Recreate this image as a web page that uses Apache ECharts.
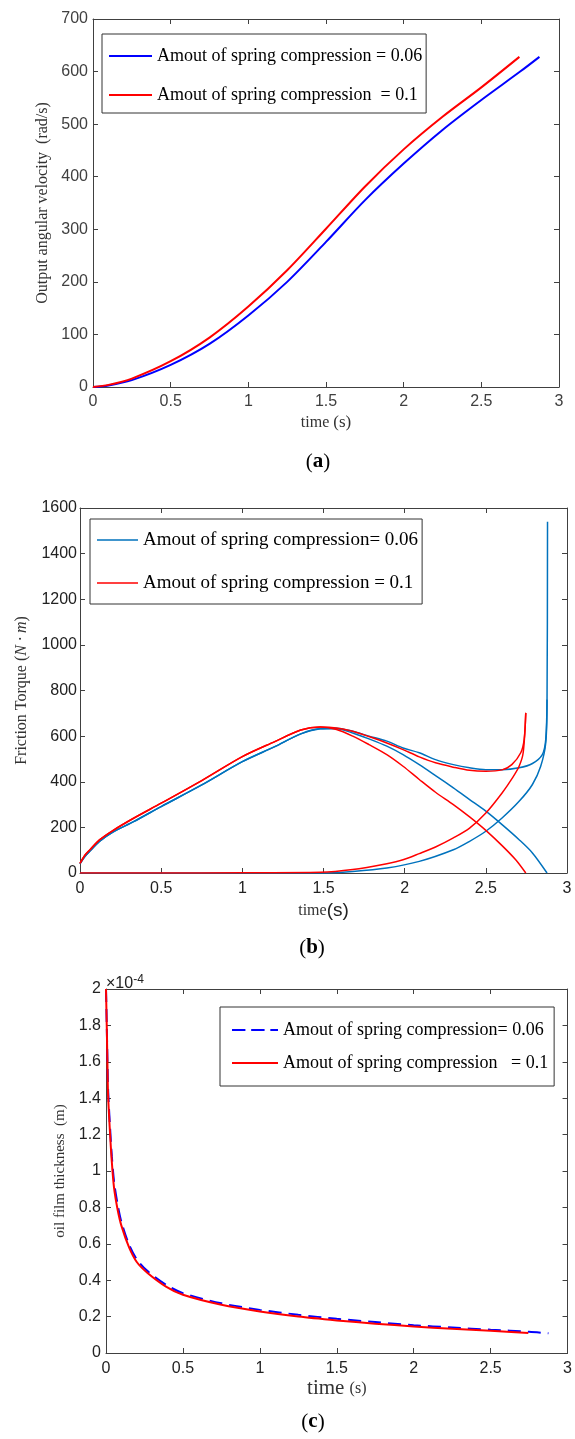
<!DOCTYPE html>
<html>
<head>
<meta charset="utf-8">
<script src="https://cdn.jsdelivr.net/npm/echarts@6/dist/echarts.min.js"></script>
<style>
  html, body { margin: 0; padding: 0; background: #fff; }
  #chart { width: 575px; height: 1439px; }
</style>
</head>
<body>
<div id="chart"></div>
<script>
// ---- (a) output angular velocity (rad/s) vs time (s) ----
const velTime06 = [0, 0.1, 0.25, 0.5, 0.75, 1.0, 1.25, 1.5, 1.75, 2.0, 2.25, 2.5, 2.75, 2.874];
const velocity06 = [0, 3, 13, 42, 82, 136, 200, 276, 355, 425, 489, 546, 600, 628];
const velTime10 = [0, 0.1, 0.25, 0.5, 0.75, 1.0, 1.25, 1.5, 1.75, 2.0, 2.25, 2.5, 2.745];
const velocity10 = [0, 4, 16, 49, 94, 153, 222, 301, 381, 452, 514, 570, 628];

// ---- (b) friction torque (N·m) vs time (s) ----
// common rising part of the total and viscous torque curves
const riseTime = [0, 0.03, 0.06, 0.12, 0.2, 0.33, 0.5, 0.75, 1.0, 1.2, 1.36, 1.48];
const riseTorque06 = [40, 72, 95, 138, 178, 225, 291, 386, 488, 554, 610, 632];
const riseTorque10 = [42, 78, 101, 145, 185, 240, 306, 405, 510, 576, 627, 640];
// total torque after the peak
const totalTailTime06 = [1.58, 1.68, 1.78, 1.89, 1.99, 2.09, 2.19, 2.3, 2.4, 2.5, 2.6, 2.705, 2.787, 2.848, 2.869, 2.877, 2.88];
const totalTail06 = [635, 621, 600, 578, 548, 527, 497, 475, 461, 453, 453, 461, 480, 519, 585, 760, 1540];
const totalTailTime10 = [1.58, 1.68, 1.78, 1.89, 1.99, 2.09, 2.19, 2.3, 2.4, 2.5, 2.6, 2.66, 2.715, 2.736, 2.746];
const totalTail10 = [636, 621, 598, 570, 541, 509, 483, 464, 450, 446, 452, 475, 527, 585, 702];
// viscous torque after the peak
const viscTailTime06 = [1.58, 1.68, 1.78, 1.89, 1.99, 2.09, 2.19, 2.3, 2.4, 2.5, 2.6, 2.705, 2.787, 2.877];
const viscTail06 = [632, 614, 588, 556, 519, 475, 427, 373, 322, 271, 212, 146, 88, 0];
const viscTailTime10 = [1.58, 1.68, 1.78, 1.89, 1.99, 2.09, 2.19, 2.3, 2.4, 2.5, 2.6, 2.684, 2.746];
const viscTail10 = [629, 600, 563, 519, 468, 410, 354, 300, 246, 187, 120, 58, 0];
// contact (asperity) torque
const contactTime06 = [0, 0.5, 1.0, 1.48, 1.68, 1.89, 2.09, 2.3, 2.4, 2.5, 2.6, 2.705, 2.787, 2.838, 2.869, 2.877];
const contact06 = [0, 0, 0, 0, 7, 22, 51, 102, 139, 183, 241, 314, 388, 468, 570, 760];
const contactTime10 = [0, 0.5, 1.0, 1.48, 1.68, 1.89, 1.99, 2.09, 2.19, 2.3, 2.4, 2.5, 2.6, 2.664, 2.705, 2.73, 2.746];
const contact10 = [0, 0, 1, 3, 15, 41, 58, 85, 114, 154, 197, 263, 351, 417, 468, 527, 702];

// ---- (c) oil film thickness, in units of 1e-4 m ----
const filmTime06 = [0, 0.005, 0.009, 0.014, 0.025, 0.038, 0.054, 0.077, 0.1, 0.15, 0.2, 0.27, 0.39, 0.5, 0.75, 1.0, 1.25, 1.5, 1.75, 2.0, 2.25, 2.5, 2.75, 2.876];
const filmE4_06 = [2.0, 1.80, 1.62, 1.44, 1.26, 1.08, 0.93, 0.81, 0.72, 0.595, 0.515, 0.45, 0.375, 0.329, 0.273, 0.237, 0.21, 0.188, 0.17, 0.153, 0.14, 0.128, 0.117, 0.108];
const filmTime10 = [0, 0.005, 0.009, 0.013, 0.024, 0.037, 0.052, 0.075, 0.1, 0.15, 0.2, 0.27, 0.39, 0.5, 0.75, 1.0, 1.25, 1.5, 1.75, 2.0, 2.25, 2.5, 2.745];
const filmE4_10 = [2.0, 1.79, 1.61, 1.43, 1.24, 1.06, 0.91, 0.79, 0.70, 0.58, 0.50, 0.44, 0.365, 0.32, 0.265, 0.228, 0.2, 0.179, 0.161, 0.146, 0.133, 0.122, 0.11];

// legend entries
const legendText = {
  a06: 'Amout of spring compression = 0.06',
  a10: 'Amout of spring compression  = 0.1',
  b06: 'Amout of spring compression= 0.06',
  b10: 'Amout of spring compression = 0.1',
  c06: 'Amout of spring compression= 0.06',
  c10: 'Amout of spring compression   = 0.1'
};

const SERIF = '"Liberation Serif", "Times New Roman", serif';
const SANS = '"Liberation Sans", Arial, sans-serif';
const AXIS_COLOR = '#404040';
// legend swatches: a plain stroke and a dashed stroke
const SOLID_ICON = 'path://M0,0H48V2H0Z';
const DASH_ICON = 'path://M0,0H14V2H0Z M20,0H34V2H20Z M40,0H48V2H40Z';

const zip = (xs, ys) => xs.map((x, i) => [x, ys[i]]);

function bottomX(gridIndex, name, nameGap, margin, labelColor, nameStyle) {
  return {
    type: 'value', gridIndex, position: 'bottom', min: 0, max: 3, interval: 0.5,
    name, nameLocation: 'middle', nameGap,
    nameTextStyle: nameStyle,
    axisLine: { show: true, onZero: false, lineStyle: { color: AXIS_COLOR, width: 1 } },
    axisTick: { show: true, inside: true, length: 5, lineStyle: { color: AXIS_COLOR } },
    axisLabel: { margin, fontFamily: SANS, fontSize: 16, color: labelColor, showMinLabel: true, showMaxLabel: true },
    splitLine: { show: false }
  };
}
function topX(gridIndex) {
  return {
    type: 'value', gridIndex, position: 'top', min: 0, max: 3, interval: 0.5,
    axisLine: { show: true, onZero: false, lineStyle: { color: AXIS_COLOR, width: 1 } },
    axisTick: { show: true, inside: true, length: 5, lineStyle: { color: AXIS_COLOR } },
    axisLabel: { show: false }, splitLine: { show: false }
  };
}
function leftY(gridIndex, max, interval, name, nameGap, margin, labelColor, nameStyle, fmt) {
  return {
    type: 'value', gridIndex, position: 'left', min: 0, max, interval,
    name, nameLocation: 'middle', nameGap, nameRotate: 90,
    nameTextStyle: Object.assign({ fontFamily: SERIF, fontSize: 16, color: '#333' }, nameStyle || {}),
    axisLine: { show: true, onZero: false, lineStyle: { color: AXIS_COLOR, width: 1 } },
    axisTick: { show: true, inside: true, length: 5, lineStyle: { color: AXIS_COLOR } },
    axisLabel: { margin, fontFamily: SANS, fontSize: 16, color: labelColor, formatter: fmt, showMinLabel: true, showMaxLabel: true },
    splitLine: { show: false }
  };
}
function rightY(gridIndex, max, interval) {
  return {
    type: 'value', gridIndex, position: 'right', min: 0, max, interval,
    axisLine: { show: true, onZero: false, lineStyle: { color: AXIS_COLOR, width: 1 } },
    axisTick: { show: true, inside: true, length: 5, lineStyle: { color: AXIS_COLOR } },
    axisLabel: { show: false }, splitLine: { show: false }
  };
}
function line(name, xIdx, yIdx, data, color, width, dash) {
  return {
    name, type: 'line', xAxisIndex: xIdx, yAxisIndex: yIdx, data,
    showSymbol: false, symbol: 'none', smooth: 0.3,
    lineStyle: { color, width, type: dash || 'solid' },
    itemStyle: { color },
    emphasis: { disabled: true }, silent: true
  };
}
function legendBox(items, left, top, padding, itemGap, itemWidth, fontSize) {
  return {
    data: items, orient: 'vertical', left, top, padding, itemGap, itemWidth, itemHeight: 2,
    borderColor: '#333', borderWidth: 1, backgroundColor: '#fff',
    formatter: n => legendText[n], selectedMode: false,
    textStyle: { fontFamily: SERIF, fontSize, color: '#000', lineHeight: 22 }
  };
}

const BLUE = '#0000ff', RED = '#ff0000', MBLUE = '#0072BD';
const labelInt = v => String(v);
const labelDec = v => String(+v.toFixed(1));

const chart = echarts.init(document.getElementById('chart'), null, { renderer: 'canvas' });
chart.setOption({
  animation: false,
  backgroundColor: '#fff',
  grid: [
    { left: 93, top: 19, width: 466, height: 368 },
    { left: 80, top: 508, width: 487, height: 365 },
    { left: 106, top: 989, width: 462, height: 364 }
  ],
  xAxis: [
    bottomX(0, 'time {p|(s)}', 27, 7, '#404040',
      { fontFamily: SERIF, fontSize: 16, color: '#333', rich: { p: { fontFamily: SERIF, fontSize: 17, color: '#333' } } }),
    bottomX(1, 'time{p|(s)}', 28, 8, '#222',
      { fontFamily: SERIF, fontSize: 16, color: '#333', rich: { p: { fontFamily: SANS, fontSize: 19, color: '#222' } } }),
    bottomX(2, 'time {p|(s)}', 25, 8, '#222',
      { fontFamily: SERIF, fontSize: 21, color: '#333', rich: { p: { fontFamily: SERIF, fontSize: 16, color: '#333' } } }),
    topX(0), topX(1), topX(2)
  ],
  yAxis: [
    leftY(0, 700, 100, 'Output angular velocity  (rad/s)', 41, 5, '#404040', null, labelInt),
    leftY(1, 1600, 200, 'Friction Torque ({i|N · m})', 50, 3, '#222',
      { fontSize: 16, rich: { i: { fontFamily: SERIF, fontStyle: 'italic', fontSize: 16, color: '#333' } } }, labelInt),
    leftY(2, 2, 0.2, 'oil film thickness  (m)', 38, 5, '#222', { fontSize: 15 }, labelDec),
    rightY(0, 700, 100), rightY(1, 1600, 200), rightY(2, 2, 0.2)
  ],
  legend: [
    legendBox([{ name: 'a06', icon: SOLID_ICON }, { name: 'a10', icon: SOLID_ICON }], 102, 34, [11, 4, 7, 7], 17, 43, 18),
    legendBox([{ name: 'b06', icon: SOLID_ICON }, { name: 'b10', icon: SOLID_ICON }], 90, 519, [10, 4, 10, 7], 21, 41, 19),
    legendBox([{ name: 'c06', icon: DASH_ICON }, { name: 'c10', icon: SOLID_ICON }], 220, 1007, [12, 6, 12, 12], 11, 46, 18)
  ],
  series: [
    line('a06', 0, 0, zip(velTime06, velocity06), BLUE, 2),
    line('a10', 0, 0, zip(velTime10, velocity10), RED, 2),

    line('b06', 1, 1, zip(riseTime.concat(totalTailTime06), riseTorque06.concat(totalTail06)), MBLUE, 1.5),
    line('b06', 1, 1, zip(riseTime.concat(viscTailTime06), riseTorque06.concat(viscTail06)), MBLUE, 1.5),
    line('b06', 1, 1, zip(contactTime06, contact06), MBLUE, 1.5),
    line('b10', 1, 1, zip(riseTime.concat(totalTailTime10), riseTorque10.concat(totalTail10)), RED, 1.5),
    line('b10', 1, 1, zip(riseTime.concat(viscTailTime10), riseTorque10.concat(viscTail10)), RED, 1.5),
    line('b10', 1, 1, zip(contactTime10, contact10), RED, 1.5),

    line('c06', 2, 2, zip(filmTime06, filmE4_06), BLUE, 2, [13, 7]),
    line('c10', 2, 2, zip(filmTime10, filmE4_10), RED, 2)
  ],
  graphic: [
    { type: 'text', x: 106, y: 984, style: {
        text: '×10{s|-4}', fontFamily: SANS, fontSize: 16, fill: '#222',
        align: 'left', verticalAlign: 'middle',
        rich: { s: { fontFamily: SANS, fontSize: 12, fill: '#222', verticalAlign: 'top', padding: [0, 0, 8, 0] } } } },
    { type: 'text', x: 318, y: 462, style: {
        text: '({b|a})', fontFamily: SERIF, fontSize: 21, fill: '#000', align: 'center', verticalAlign: 'middle',
        rich: { b: { fontFamily: SERIF, fontSize: 21, fontWeight: 'bold', fill: '#000' } } } },
    { type: 'text', x: 312, y: 948, style: {
        text: '({b|b})', fontFamily: SERIF, fontSize: 21, fill: '#000', align: 'center', verticalAlign: 'middle',
        rich: { b: { fontFamily: SERIF, fontSize: 21, fontWeight: 'bold', fill: '#000' } } } },
    { type: 'text', x: 313, y: 1422, style: {
        text: '({b|c})', fontFamily: SERIF, fontSize: 21, fill: '#000', align: 'center', verticalAlign: 'middle',
        rich: { b: { fontFamily: SERIF, fontSize: 21, fontWeight: 'bold', fill: '#000' } } } }
  ]
});
</script>
</body>
</html>
